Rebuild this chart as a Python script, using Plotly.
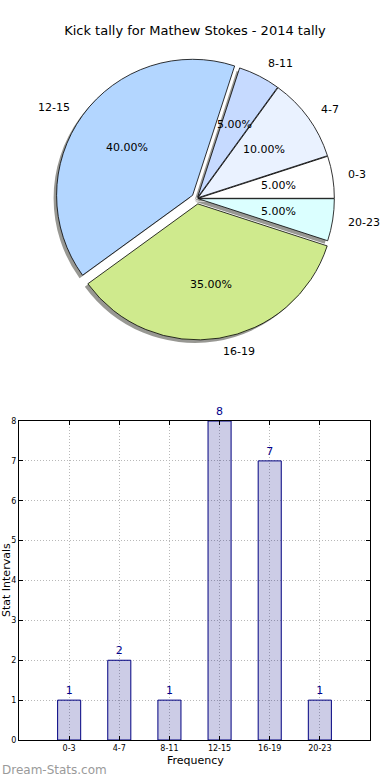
import math
import plotly.graph_objects as go

# ---- data ----
categories = ["0-3", "4-7", "8-11", "12-15", "16-19", "20-23"]
counts = [1, 2, 1, 8, 7, 1]
pie_colors = ["#FFFFFF", "#EAF2FF", "#C6DAFF", "#B3D6FF", "#CFEA8D", "#DBFFFF"]
pulls = [0.01, 0.01, 0.01, 0.04, 0.04, 0.01]
title_text = "Kick tally for Mathew Stokes - 2014 tally"

W, H = 390, 780
FONT = "DejaVu Sans"


def fx(px):
    return px / W


def fy(py):
    return 1 - py / H


total = sum(counts)
# plotly (counterclockwise) ends the first slice at the rotation angle;
# matplotlib starts it at 3 o'clock
rotation = 90 - 360 * counts[0] / total

# pie geometry (pixels)
cx, cy, r = 197, 198.5, 136
maxpull = max(pulls)
rbox = r * (1 + maxpull)
pie_dom_x = [fx(cx - rbox), fx(cx + rbox)]
pie_dom_y = [fy(cy + rbox), fy(cy - rbox)]
sh = 3  # shadow offset px

fig = go.Figure()

# shadow pie
fig.add_trace(go.Pie(
    labels=categories, values=counts, sort=False, direction="counterclockwise",
    rotation=rotation, pull=pulls, textinfo="none", hoverinfo="skip",
    marker=dict(colors=["rgba(50,50,40,0.5)"] * len(counts), line=dict(width=0)),
    domain=dict(x=[pie_dom_x[0] - sh / W, pie_dom_x[1] - sh / W],
                y=[pie_dom_y[0] - sh / H, pie_dom_y[1] - sh / H]),
    showlegend=False,
))
# main pie
fig.add_trace(go.Pie(
    labels=categories, values=counts, sort=False, direction="counterclockwise",
    rotation=rotation, pull=pulls, textinfo="none",
    marker=dict(colors=pie_colors, line=dict(color="black", width=0.8)),
    domain=dict(x=pie_dom_x, y=pie_dom_y),
    showlegend=False,
))

annotations = []
cum = 0
for cat, v, p in zip(categories, counts, pulls):
    theta = math.radians(360 * (cum + v / 2) / total)
    cum += v
    c, s = math.cos(theta), math.sin(theta)
    # percent label
    tx = cx + (p + 0.6) * r * c
    ty = cy - (p + 0.6) * r * s
    annotations.append(dict(x=fx(tx), y=fy(ty), xref="paper", yref="paper",
                            text=f"{100 * v / total:.2f}%", showarrow=False,
                            xanchor="center", yanchor="middle",
                            font=dict(family=FONT, size=11, color="black")))
    # category label
    lx = cx + (p + 1.1) * r * c
    ly = cy - (p + 1.1) * r * s
    annotations.append(dict(x=fx(lx), y=fy(ly), xref="paper", yref="paper",
                            text=cat, showarrow=False,
                            xanchor="left" if c > 0 else "right", yanchor="middle",
                            font=dict(family=FONT, size=11, color="black")))

# bar chart
fig.add_trace(go.Bar(
    x=list(range(len(categories))), y=counts, width=0.46,
    marker=dict(color="rgba(0,0,128,0.2)", line=dict(color="#000080", width=1)),
    text=[str(c) for c in counts], textposition="outside", cliponaxis=False,
    textfont=dict(family=FONT, size=11, color="#00008B"),
    xaxis="x", yaxis="y", showlegend=False,
))

annotations += [
    dict(x=fx(195), y=fy(760), xref="paper", yref="paper", text="Frequency",
         showarrow=False, xanchor="center", yanchor="middle",
         font=dict(family=FONT, size=11, color="black")),
    dict(x=fx(6), y=fy(580), xref="paper", yref="paper", text="Stat Intervals",
         showarrow=False, xanchor="center", yanchor="middle", textangle=-90,
         font=dict(family=FONT, size=11, color="black")),
    dict(x=fx(0), y=fy(770), xref="paper", yref="paper", text="Dream-Stats.com",
         showarrow=False, xanchor="left", yanchor="middle",
         font=dict(family=FONT, size=12, color="#9a9a9a")),
]

axis_common = dict(showline=True, linecolor="black", linewidth=1, mirror="allticks",
                   ticks="inside", ticklen=4, tickcolor="black", automargin=False,
                   showgrid=True, gridcolor="#b8b8b8", griddash="1px,2px", gridwidth=1,
                   zeroline=False, tickfont=dict(family=FONT, size=8, color="black"))

fig.update_layout(
    width=W, height=H,
    margin=dict(l=0, r=0, t=0, b=0, autoexpand=False),
    paper_bgcolor="white", plot_bgcolor="white",
    title=dict(text=title_text, x=0.5, xanchor="center", y=fy(30), yanchor="middle",
               font=dict(family=FONT, size=13, color="black")),
    xaxis=dict(domain=[fx(19), fx(370)], range=[-1, 6], tickmode="array",
               tickvals=list(range(len(categories))), ticktext=categories,
               anchor="y", **axis_common),
    yaxis=dict(domain=[fy(740), fy(421)], range=[0, 8], dtick=1, anchor="x",
               **axis_common),
    annotations=annotations,
    font=dict(family=FONT),
)

fig.write_html("out.html", config={"displayModeBar": False},
               post_script="document.body.style.margin='0';")
